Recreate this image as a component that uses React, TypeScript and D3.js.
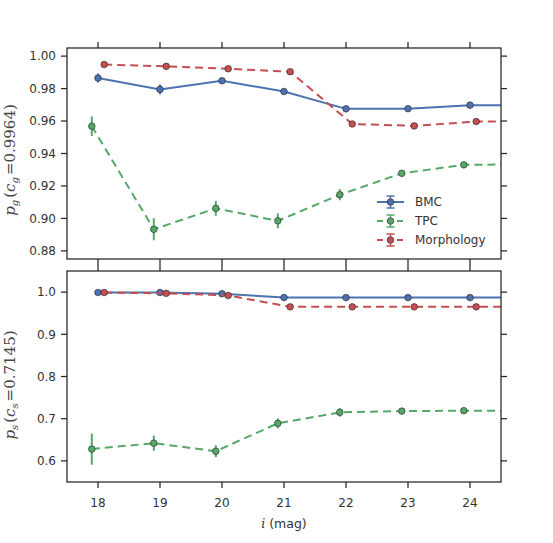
import React from "react";
import * as d3 from "d3";

const width = 553;
const height = 543;
const left = 67;
const right = 501;
const topPanel = { y0: 48, y1: 259 };
const botPanel = { y0: 271, y1: 482 };

const mags = [18, 19, 20, 21, 22, 23, 24, 25];
const xTicks = [18, 19, 20, 21, 22, 23, 24];

// top panel: p_g
const bmcG = [0.9865, 0.9795, 0.9848, 0.9782, 0.9675, 0.9676, 0.9698, 0.9698];
const bmcGErr = [0.0028, 0.003, 0.0015, 0.0015, 0.002, 0.001, 0.001, 0.001];
const tpcG = [0.9568, 0.8933, 0.9062, 0.8985, 0.9146, 0.9278, 0.9330, 0.9333];
const tpcGErr = [0.006, 0.0068, 0.0046, 0.0046, 0.0034, 0.002, 0.0015, 0.0015];
const morG = [0.9948, 0.9937, 0.9922, 0.9904, 0.9582, 0.9570, 0.9597, 0.9597];
const morGErr = [0.001, 0.001, 0.001, 0.001, 0.001, 0.001, 0.001, 0.001];

// bottom panel: p_s
const bmcS = [0.999, 0.999, 0.996, 0.987, 0.987, 0.987, 0.987, 0.987];
const bmcSErr = [0.002, 0.002, 0.002, 0.002, 0.002, 0.002, 0.002, 0.002];
const tpcS = [0.628, 0.642, 0.623, 0.689, 0.715, 0.718, 0.719, 0.719];
const tpcSErr = [0.037, 0.018, 0.014, 0.012, 0.01, 0.007, 0.007, 0.007];
const morS = [0.999, 0.997, 0.992, 0.965, 0.965, 0.965, 0.965, 0.965];
const morSErr = [0.002, 0.002, 0.002, 0.002, 0.002, 0.002, 0.002, 0.002];

const topTicks = [0.88, 0.9, 0.92, 0.94, 0.96, 0.98, 1.0];
const botTicks = [0.6, 0.7, 0.8, 0.9, 1.0];

const seriesMeta = [
  { name: "BMC", color: "#4C72B0", dash: "", offset: 0 },
  { name: "TPC", color: "#55A868", dash: "8,5", offset: -0.1 },
  { name: "Morphology", color: "#C44E52", dash: "8,5", offset: 0.1 },
];

const x = d3.scaleLinear().domain([17.5, 24.5]).range([left, right]);
const font = "'DejaVu Sans', sans-serif";
const frameColor = "#262626";
const textColor = "#333";

function Panel({ id, yScale, y0, y1, ticks, fmt, data }) {
  const line = (vals, off) =>
    d3.line()(vals.map((v, i) => [x(mags[i] + off), yScale(v)]));
  return (
    <g>
      <defs>
        <clipPath id={id}>
          <rect x={left} y={y0} width={right - left} height={y1 - y0} />
        </clipPath>
      </defs>
      <g clipPath={`url(#${id})`}>
        {data.map((s, k) => {
          const m = seriesMeta[k];
          return (
            <g key={k}>
              <path d={line(s.v, m.offset)} fill="none" stroke={m.color} strokeWidth={2} strokeDasharray={m.dash} />
              {s.v.map((v, i) => (
                <line key={"e" + i} x1={x(mags[i] + m.offset)} x2={x(mags[i] + m.offset)}
                  y1={yScale(v - s.e[i])} y2={yScale(v + s.e[i])} stroke={m.color} strokeWidth={2} />
              ))}
              {s.v.map((v, i) => (
                <circle key={"c" + i} cx={x(mags[i] + m.offset)} cy={yScale(v)} r={3.3}
                  fill={m.color} stroke="#222" strokeWidth={0.6} />
              ))}
            </g>
          );
        })}
      </g>
      <rect x={left} y={y0} width={right - left} height={y1 - y0} fill="none" stroke={frameColor} strokeWidth={1.25} />
      {xTicks.map((t) => (
        <g key={t}>
          <line x1={x(t)} x2={x(t)} y1={y0} y2={y0 - 6} stroke={frameColor} strokeWidth={1.25} />
          <line x1={x(t)} x2={x(t)} y1={y1} y2={y1 + 6} stroke={frameColor} strokeWidth={1.25} />
        </g>
      ))}
      {ticks.map((t) => (
        <g key={t}>
          <line x1={left} x2={left - 6} y1={yScale(t)} y2={yScale(t)} stroke={frameColor} strokeWidth={1.25} />
          <line x1={right} x2={right + 6} y1={yScale(t)} y2={yScale(t)} stroke={frameColor} strokeWidth={1.25} />
          <text x={left - 11} y={yScale(t)} dy="0.35em" textAnchor="end" fontFamily={font} fontSize={12} fill={textColor}>
            {fmt(t)}
          </text>
        </g>
      ))}
    </g>
  );
}

function YLabel({ cx, cy, sub, value }) {
  return (
    <text transform={`translate(${cx},${cy}) rotate(-90)`} textAnchor="middle"
      fontFamily="'DejaVu Serif', serif" fontSize={15} fill="#444">
      <tspan fontStyle="italic">p</tspan>
      <tspan fontStyle="italic" fontSize={10} dy={3}>{sub}</tspan>
      <tspan dy={-3} dx={2}>(</tspan>
      <tspan fontStyle="italic">c</tspan>
      <tspan fontStyle="italic" fontSize={10} dy={3}>{sub}</tspan>
      <tspan dy={-3} dx={2}>{"=" + value + ")"}</tspan>
    </text>
  );
}

export default function App() {
  const yTop = d3.scaleLinear().domain([0.875, 1.005]).range([topPanel.y1, topPanel.y0]);
  const yBot = d3.scaleLinear().domain([0.55, 1.05]).range([botPanel.y1, botPanel.y0]);
  const topData = [
    { v: bmcG, e: bmcGErr },
    { v: tpcG, e: tpcGErr },
    { v: morG, e: morGErr },
  ];
  const botData = [
    { v: bmcS, e: bmcSErr },
    { v: tpcS, e: tpcSErr },
    { v: morS, e: morSErr },
  ];
  const legendY = [202, 221, 240];
  return (
    <svg width={width} height={height} style={{ position: "absolute", left: 0, top: 0, background: "#fff" }}>
      <rect width={width} height={height} fill="#fff" />
      <Panel id="clipTop" yScale={yTop} y0={topPanel.y0} y1={topPanel.y1} ticks={topTicks} fmt={d3.format(".2f")} data={topData} />
      <Panel id="clipBot" yScale={yBot} y0={botPanel.y0} y1={botPanel.y1} ticks={botTicks} fmt={d3.format(".1f")} data={botData} />
      {xTicks.map((t) => (
        <text key={t} x={x(t)} y={503} dy="0.35em" textAnchor="middle" fontFamily={font} fontSize={12} fill={textColor}>
          {t}
        </text>
      ))}
      <text x={284} y={528} textAnchor="middle" fontFamily={font} fontSize={12.5} fill={textColor}>
        <tspan fontFamily="'DejaVu Serif', serif" fontStyle="italic">i</tspan>
        <tspan> (mag)</tspan>
      </text>
      <YLabel cx={15} cy={160} sub="g" value="0.9964" />
      <YLabel cx={15} cy={385} sub="s" value="0.7145" />
      {seriesMeta.map((m, k) => (
        <g key={m.name}>
          <line x1={377} x2={404} y1={legendY[k]} y2={legendY[k]} stroke={m.color} strokeWidth={2} strokeDasharray={m.dash ? "6,4" : ""} />
          <line x1={390.5} x2={390.5} y1={legendY[k] - 6} y2={legendY[k] + 6} stroke={m.color} strokeWidth={1.5} />
          <line x1={386.5} x2={394.5} y1={legendY[k] - 6} y2={legendY[k] - 6} stroke={m.color} strokeWidth={1.5} />
          <line x1={386.5} x2={394.5} y1={legendY[k] + 6} y2={legendY[k] + 6} stroke={m.color} strokeWidth={1.5} />
          <circle cx={390.5} cy={legendY[k]} r={3.3} fill={m.color} stroke="#222" strokeWidth={0.6} />
          <text x={415} y={legendY[k]} dy="0.35em" fontFamily={font} fontSize={12} fill={textColor}>
            {m.name}
          </text>
        </g>
      ))}
    </svg>
  );
}
